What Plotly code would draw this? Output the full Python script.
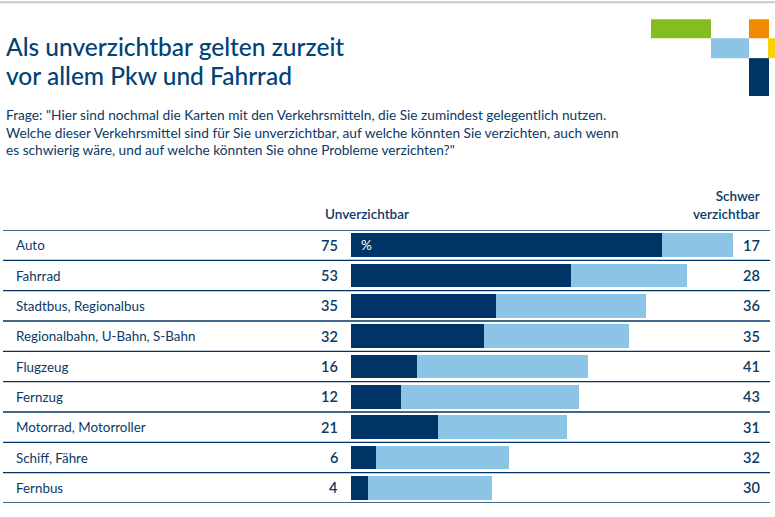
import plotly.graph_objects as go

categories = ["Auto", "Fahrrad", "Stadtbus, Regionalbus", "Regionalbahn, U-Bahn, S-Bahn",
              "Flugzeug", "Fernzug", "Motorrad, Motorroller", "Schiff, Fähre", "Fernbus"]
unverzichtbar = [75, 53, 35, 32, 16, 12, 21, 6, 4]
schwer_verzichtbar = [17, 28, 36, 35, 41, 43, 31, 32, 30]

title_lines = ["Als unverzichtbar gelten zurzeit", "vor allem Pkw und Fahrrad"]
question_lines = [
    'Frage: "Hier sind nochmal die Karten mit den Verkehrsmitteln, die Sie zumindest gelegentlich nutzen.',
    'Welche dieser Verkehrsmittel sind für Sie unverzichtbar, auf welche könnten Sie verzichten, auch wenn',
    'es schwierig wäre, und auf welche könnten Sie ohne Probleme verzichten?"',
]

W, H = 775, 517
ML, MR, MT, MB = 351, 0, 229.5, 13.5
PW, PH = W - ML - MR, H - MT - MB
PX_PER_UNIT = 4.15

DARK = "#003466"
LIGHT = "#8cc4e6"
TEXT = "#0b3a66"
FONT = "Lato"


def px(x):
    return (x - ML) / PW


def py(y):
    return (H - MB - y) / PH


fig = go.Figure()
fig.add_trace(go.Bar(y=categories, x=unverzichtbar, orientation="h",
                     marker=dict(color=DARK, line=dict(width=0)), width=0.77,
                     hoverinfo="skip", name="Unverzichtbar"))
fig.add_trace(go.Bar(y=categories, x=schwer_verzichtbar, orientation="h",
                     marker=dict(color=LIGHT, line=dict(width=0)), width=0.77,
                     hoverinfo="skip", name="Schwer verzichtbar"))

shapes = []
for i in range(len(categories) + 1):
    shapes.append(dict(type="line", xref="paper", yref="y", x0=px(3), x1=px(770),
                       y0=i - 0.5, y1=i - 0.5, line=dict(color=DARK, width=1.3)))

# logo blocks
logo = [
    (651, 18, 711, 37, "#85bc1f"),
    (711, 37, 749, 57, "#8cc4e6"),
    (749, 18, 769, 37, "#f28a00"),
    (768, 37, 775, 57, "#f5d300"),
    (749, 57, 769, 95, "#003466"),
]
for x0, y0, x1, y1, c in logo:
    shapes.append(dict(type="rect", xref="paper", yref="paper", x0=px(x0), x1=px(x1),
                       y0=py(y1), y1=py(y0), fillcolor=c, line=dict(width=0), layer="above"))
# top gray line
shapes.append(dict(type="rect", xref="paper", yref="paper", x0=px(0), x1=px(775),
                   y0=py(2), y1=py(0), fillcolor="#c8c8c8", line=dict(width=0)))

ann = []
for i, (c, a, b) in enumerate(zip(categories, unverzichtbar, schwer_verzichtbar)):
    ann.append(dict(xref="paper", yref="y", x=px(14), y=i, text=c, xanchor="left",
                    yanchor="middle", showarrow=False, font=dict(size=13.4, color=TEXT, family=FONT)))
    ann.append(dict(xref="paper", yref="y", x=px(340), y=i, text=str(a), xanchor="right",
                    yanchor="middle", showarrow=False, font=dict(size=14.5, color=TEXT, family=FONT, weight=600)))
    ann.append(dict(xref="paper", yref="y", x=px(762), y=i, text=str(b), xanchor="right",
                    yanchor="middle", showarrow=False, font=dict(size=14.5, color=TEXT, family=FONT, weight=600)))

ann.append(dict(xref="paper", yref="y", x=px(359), y=0, text="%", xanchor="left",
                yanchor="middle", showarrow=False, font=dict(size=13.5, color="white", family=FONT)))

ann.append(dict(xref="paper", yref="paper", x=px(323), y=py(213), text="Unverzichtbar",
                xanchor="left", yanchor="middle", showarrow=False,
                font=dict(size=13.5, color=TEXT, family=FONT, weight=600)))
ann.append(dict(xref="paper", yref="paper", x=px(762), y=py(204), text="Schwer<br>verzichtbar",
                xanchor="right", yanchor="middle", align="right", showarrow=False,
                font=dict(size=13.5, color=TEXT, family=FONT, weight=600)))

for j, t in enumerate(title_lines):
    ann.append(dict(xref="paper", yref="paper", x=px(4), y=py(45 + 29.5 * j), text=t,
                    xanchor="left", yanchor="middle", showarrow=False,
                    font=dict(size=24.5, color="#004377", family=FONT, weight=500)))
for j, t in enumerate(question_lines):
    ann.append(dict(xref="paper", yref="paper", x=px(4), y=py(114 + 17.5 * j), text=t,
                    xanchor="left", yanchor="middle", showarrow=False,
                    font=dict(size=13.7, color=TEXT, family=FONT)))

fig.update_layout(
    width=W, height=H, barmode="stack", showlegend=False,
    margin=dict(l=ML, r=MR, t=MT, b=MB, pad=0),
    paper_bgcolor="white", plot_bgcolor="white",
    xaxis=dict(range=[0, PW / PX_PER_UNIT], visible=False, fixedrange=True),
    yaxis=dict(range=[len(categories) - 0.5, -0.5], visible=False, fixedrange=True,
               categoryorder="array", categoryarray=categories),
    shapes=shapes, annotations=ann,
)

fig.write_html("out.html", config={"displayModeBar": False})
